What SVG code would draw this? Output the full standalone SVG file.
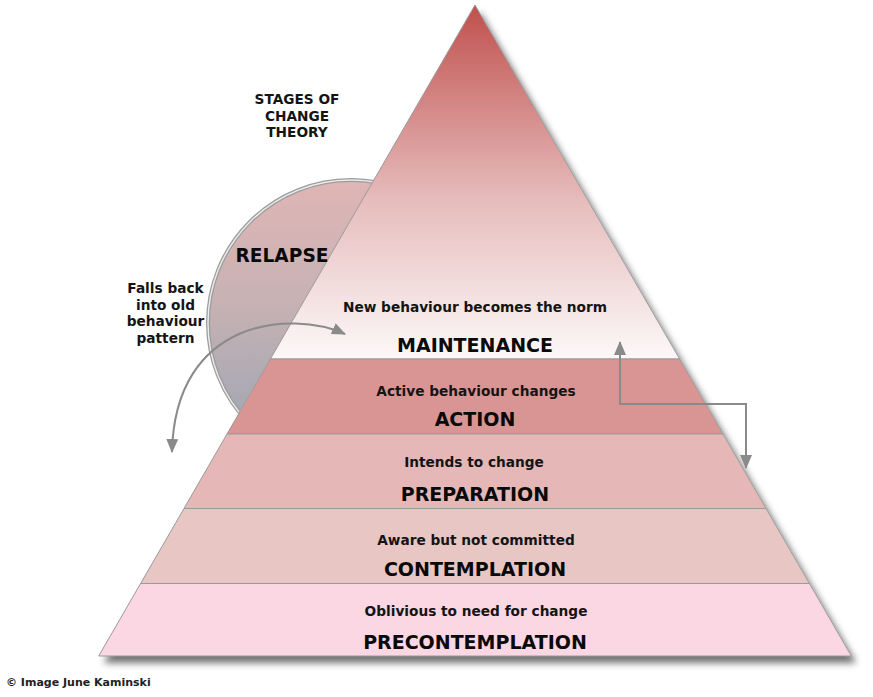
<svg xmlns="http://www.w3.org/2000/svg" width="873" height="697" viewBox="0 0 873 697">
  <style>
    .band { stroke: #9a9a9a; stroke-width: 1; }
    .desc { font-family: "DejaVu Sans", Verdana, sans-serif; font-weight: bold; font-size: 13.7px; fill: #141414; text-anchor: middle; }
    .head { font-family: "DejaVu Sans", Verdana, sans-serif; font-weight: bold; font-size: 19px; fill: #0a0a0a; text-anchor: middle; }
    .conn { fill: none; stroke: #8a8a8a; stroke-width: 2; }
  </style>
  <defs>
    <linearGradient id="gTop" gradientUnits="userSpaceOnUse" x1="0" y1="5" x2="0" y2="359">
      <stop offset="0" stop-color="#c0504d"/>
      <stop offset="0.55" stop-color="#e6bcbc"/>
      <stop offset="1" stop-color="#fdf8f8"/>
    </linearGradient>
    <linearGradient id="gRelapse" gradientUnits="userSpaceOnUse" x1="0" y1="180" x2="0" y2="415">
      <stop offset="0" stop-color="#e0b5b5"/>
      <stop offset="0.5" stop-color="#c8b2b4"/>
      <stop offset="1" stop-color="#a5a8b3"/>
    </linearGradient>
    <filter id="shadow" x="-10%" y="-10%" width="130%" height="130%">
      <feDropShadow dx="5" dy="7" stdDeviation="3.5" flood-color="#000" flood-opacity="0.55"/>
    </filter>
    <marker id="arrow" viewBox="0 0 14 12" refX="13" refY="6" markerWidth="14" markerHeight="12" markerUnits="userSpaceOnUse" orient="auto-start-reverse">
      <path d="M0,0 L14,6 L0,12 z" fill="#8a8a8a"/>
    </marker>
  </defs>

  <rect width="873" height="697" fill="#ffffff"/>

  <g id="relapse">
    <circle cx="351" cy="323" r="143" fill="url(#gRelapse)"/>
    <circle cx="351" cy="323" r="143" fill="none" stroke="#9c9c9c" stroke-width="4"/>
    <circle cx="351" cy="323" r="143" fill="none" stroke="#ececec" stroke-width="1.4"/>
  </g>

  <g id="pyramid-shadow">
    <polygon points="475,5 851.3,656 98.7,656" fill="#ffffff" filter="url(#shadow)"/>
  </g>

  <g id="maintenance">
    <polygon class="band" points="475,5 679.6,359 270.4,359" fill="url(#gTop)"/>
    <text class="desc" x="475" y="312">New behaviour becomes the norm</text>
    <text class="head" x="475" y="352">MAINTENANCE</text>
  </g>
  <g id="action">
    <polygon class="band" points="270.4,359 679.6,359 723,434 227,434" fill="#d99594"/>
    <text class="desc" x="476" y="396">Active behaviour changes</text>
    <text class="head" x="475" y="426">ACTION</text>
  </g>
  <g id="preparation">
    <polygon class="band" points="227,434 723,434 766,508.5 184,508.5" fill="#e5b8b7"/>
    <text class="desc" x="474" y="467">Intends to change</text>
    <text class="head" x="475" y="501">PREPARATION</text>
  </g>
  <g id="contemplation">
    <polygon class="band" points="184,508.5 766,508.5 809.4,583.5 140.6,583.5" fill="#e8c6c4"/>
    <text class="desc" x="476" y="544.5">Aware but not committed</text>
    <text class="head" x="475" y="576">CONTEMPLATION</text>
  </g>
  <g id="precontemplation">
    <polygon class="band" points="140.6,583.5 809.4,583.5 851.3,656 98.7,656" fill="#fbd6e3"/>
    <text class="desc" x="476" y="616">Oblivious to need for change</text>
    <text class="head" x="475" y="649">PRECONTEMPLATION</text>
  </g>

  <g id="relapse-label">
    <text class="head" x="282" y="262" style="font-size:18.6px">RELAPSE</text>
  </g>

  <g id="title">
    <text class="desc" x="297" y="104">STAGES OF</text>
    <text class="desc" x="297" y="120.7">CHANGE</text>
    <text class="desc" x="297" y="137.3">THEORY</text>
  </g>

  <g id="falls-back">
    <text class="desc" x="165.5" y="293">Falls back</text>
    <text class="desc" x="165.5" y="309.5">into old</text>
    <text class="desc" x="165.5" y="326">behaviour</text>
    <text class="desc" x="165.5" y="342.5">pattern</text>
  </g>

  <g id="connectors">
    <path class="conn" d="M 345 334 C 292 310 175 318 172 452" marker-start="url(#arrow)" marker-end="url(#arrow)"/>
    <path class="conn" d="M 620 342 V 404 H 746 V 468" marker-start="url(#arrow)" marker-end="url(#arrow)"/>
  </g>

  <g id="credit">
    <text x="6" y="686" style="font-family:'DejaVu Sans', Verdana, sans-serif; font-weight:bold; font-size:11px; fill:#222">© Image June Kaminski</text>
  </g>
</svg>
